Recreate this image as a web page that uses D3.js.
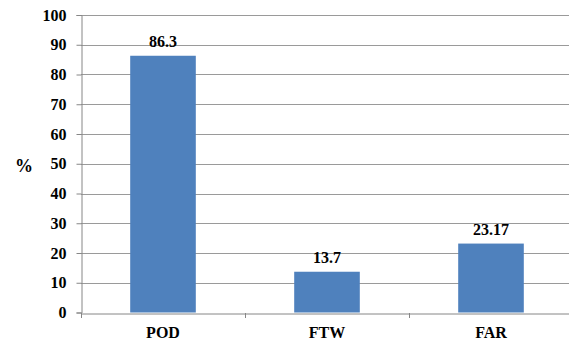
<!DOCTYPE html>
<html>
<head>
<meta charset="utf-8">
<script src="https://cdn.jsdelivr.net/npm/d3@7"></script>
<style>
  html, body { margin: 0; padding: 0; background: #fff; }
  svg { display: block; }
  svg text { font-family: "Liberation Serif", "Times New Roman", serif; font-weight: bold; fill: #000; }
</style>
</head>
<body>
<script>
// Skill scores, in percent
const categories = ["POD", "FTW", "FAR"];
const values = [86.3, 13.7, 23.17];
const valueLabels = ["86.3", "13.7", "23.17"];
const yTicks = [0, 10, 20, 30, 40, 50, 60, 70, 80, 90, 100];

(function () {
  const W = 569, H = 342;
  const plotLeft = 81, plotRight = 573, plotTop = 15, plotBottom = 312.5;

  const svg = d3.select("body").append("svg")
    .attr("width", W).attr("height", H);

  const x = d3.scaleBand().domain(categories).range([plotLeft, plotRight]).padding(0);
  const y = d3.scaleLinear().domain([0, 100]).range([plotBottom, plotTop]);

  // horizontal gridlines
  svg.append("g").selectAll("line").data(yTicks.filter(d => d > 0)).join("line")
    .attr("x1", plotLeft).attr("x2", plotRight)
    .attr("y1", d => Math.round(y(d)) + 0.5).attr("y2", d => Math.round(y(d)) + 0.5)
    .attr("stroke", "#9a9a9a").attr("stroke-width", 1);

  // bars
  const barW = x.bandwidth() * 0.4;
  svg.append("g").selectAll("rect").data(values).join("rect")
    .attr("x", (d, i) => x(categories[i]) + (x.bandwidth() - barW) / 2)
    .attr("width", barW)
    .attr("y", d => y(d))
    .attr("height", d => y(0) - y(d))
    .attr("fill", "#4f81bd");

  // value labels
  svg.append("g").selectAll("text").data(values).join("text")
    .attr("x", (d, i) => x(categories[i]) + x.bandwidth() / 2)
    .attr("y", d => y(d) - 9)
    .attr("text-anchor", "middle")
    .attr("font-size", 16)
    .text((d, i) => valueLabels[i]);

  // y axis
  const yAxis = svg.append("g")
    .attr("transform", `translate(${plotLeft + 0.5},0)`)
    .call(d3.axisLeft(y).tickValues(yTicks).tickSize(5).tickPadding(10).tickFormat(d3.format("d")));
  yAxis.select(".domain").attr("stroke", "#868686");
  yAxis.selectAll(".tick line").attr("stroke", "#868686");
  yAxis.selectAll(".tick text").attr("font-size", 16).attr("fill", "#000");

  // x axis
  const xAxis = svg.append("g")
    .attr("transform", `translate(0,${Math.round(plotBottom) + 0.5})`)
    .call(d3.axisBottom(x).tickSize(0).tickPadding(13));
  xAxis.select(".domain").attr("stroke", "#868686");
  xAxis.selectAll(".tick text").attr("font-size", 16).attr("fill", "#000");

  // category separators below the x axis
  const bounds = categories.map(c => x(c)).concat([plotRight]);
  svg.append("g").selectAll("line").data(bounds).join("line")
    .attr("x1", d => Math.round(d) + 0.5).attr("x2", d => Math.round(d) + 0.5)
    .attr("y1", Math.round(plotBottom)).attr("y2", Math.round(plotBottom) + 5)
    .attr("stroke", "#868686");

  // y axis title
  svg.append("text")
    .attr("x", 24).attr("y", 172)
    .attr("text-anchor", "middle")
    .attr("font-size", 18)
    .text("%");
})();
</script>
</body>
</html>
